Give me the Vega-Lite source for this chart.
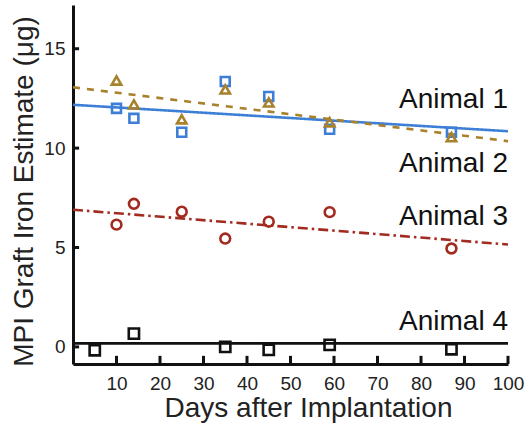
{
  "$schema": "https://vega.github.io/schema/vega-lite/v6.json",
  "width": 435,
  "height": 359,
  "autosize": "none",
  "padding": {"left": 73, "top": 5, "right": 16, "bottom": 67},
  "config": {"view": {"stroke": null}, "font": "Liberation Sans"},
  "datasets": {
    "points": [
      {"animal": "Animal 1", "day": 10, "value": 12.0},
      {"animal": "Animal 1", "day": 14, "value": 11.5},
      {"animal": "Animal 1", "day": 25, "value": 10.8},
      {"animal": "Animal 1", "day": 35, "value": 13.35},
      {"animal": "Animal 1", "day": 45, "value": 12.6},
      {"animal": "Animal 1", "day": 59, "value": 10.95},
      {"animal": "Animal 1", "day": 87, "value": 10.8},
      {"animal": "Animal 2", "day": 10, "value": 13.4},
      {"animal": "Animal 2", "day": 14, "value": 12.2},
      {"animal": "Animal 2", "day": 25, "value": 11.45},
      {"animal": "Animal 2", "day": 35, "value": 12.95},
      {"animal": "Animal 2", "day": 45, "value": 12.3},
      {"animal": "Animal 2", "day": 59, "value": 11.3},
      {"animal": "Animal 2", "day": 87, "value": 10.55},
      {"animal": "Animal 3", "day": 10, "value": 6.15},
      {"animal": "Animal 3", "day": 14, "value": 7.2},
      {"animal": "Animal 3", "day": 25, "value": 6.8},
      {"animal": "Animal 3", "day": 35, "value": 5.45},
      {"animal": "Animal 3", "day": 45, "value": 6.3},
      {"animal": "Animal 3", "day": 59, "value": 6.78},
      {"animal": "Animal 3", "day": 87, "value": 4.95},
      {"animal": "Animal 4", "day": 5, "value": -0.17},
      {"animal": "Animal 4", "day": 14, "value": 0.67},
      {"animal": "Animal 4", "day": 35, "value": 0.0},
      {"animal": "Animal 4", "day": 45, "value": -0.15},
      {"animal": "Animal 4", "day": 59, "value": 0.1},
      {"animal": "Animal 4", "day": 87, "value": -0.12}
    ],
    "fits": [
      {"animal": "Animal 1", "day": 0, "value": 12.18},
      {"animal": "Animal 1", "day": 100, "value": 10.85},
      {"animal": "Animal 2", "day": 0, "value": 13.06},
      {"animal": "Animal 2", "day": 100, "value": 10.35},
      {"animal": "Animal 3", "day": 0, "value": 6.9},
      {"animal": "Animal 3", "day": 100, "value": 5.15},
      {"animal": "Animal 4", "day": 0, "value": 0.18},
      {"animal": "Animal 4", "day": 100, "value": 0.18}
    ],
    "labels": [
      {"animal": "Animal 1", "day": 100, "value": 12.03},
      {"animal": "Animal 2", "day": 100, "value": 8.81},
      {"animal": "Animal 3", "day": 100, "value": 6.14},
      {"animal": "Animal 4", "day": 100, "value": 0.86}
    ],
    "xticks": [
      {"tday": 10, "ylo": -0.86, "yhi": -0.45}, {"tday": 20, "ylo": -0.86, "yhi": -0.45},
      {"tday": 30, "ylo": -0.86, "yhi": -0.45}, {"tday": 40, "ylo": -0.86, "yhi": -0.45},
      {"tday": 50, "ylo": -0.86, "yhi": -0.45}, {"tday": 60, "ylo": -0.86, "yhi": -0.45},
      {"tday": 70, "ylo": -0.86, "yhi": -0.45}, {"tday": 80, "ylo": -0.86, "yhi": -0.45},
      {"tday": 90, "ylo": -0.86, "yhi": -0.45}, {"tday": 100, "ylo": -0.86, "yhi": -0.45}
    ],
    "yticks": [
      {"tval": 0, "xlo": 0, "xhi": 1.4}, {"tval": 5, "xlo": 0, "xhi": 1.4},
      {"tval": 10, "xlo": 0, "xhi": 1.4}, {"tval": 15, "xlo": 0, "xhi": 1.4}
    ]
  },
  "encoding": {
    "x": {
      "type": "quantitative",
      "scale": {"domain": [0, 100], "nice": false, "zero": false},
      "axis": {
        "title": "Days after Implantation",
        "values": [10, 20, 30, 40, 50, 60, 70, 80, 90, 100],
        "grid": false, "ticks": false,
        "domainColor": "#111", "domainWidth": 3,
        "labelFontSize": 19, "labelColor": "#222", "labelPadding": 10,
        "labelFlush": false,
        "titleFontSize": 28, "titleFontWeight": "normal", "titleColor": "#222",
        "titleX": 235, "titleY": 52, "titleBaseline": "alphabetic", "titleAlign": "center"
      }
    },
    "y": {
      "type": "quantitative",
      "scale": {"domain": [-0.86, 17.2], "nice": false, "zero": false},
      "axis": {
        "title": "MPI Graft Iron Estimate (μg)",
        "values": [0, 5, 10, 15],
        "grid": false, "ticks": false,
        "domainColor": "#111", "domainWidth": 3,
        "labelFontSize": 19, "labelColor": "#222", "labelPadding": 8,
        "labelFlush": false,
        "titleFontSize": 28, "titleFontWeight": "normal", "titleColor": "#222",
        "titleX": -41, "titleY": 186, "titleAngle": -90, "titleBaseline": "alphabetic", "titleAlign": "center"
      }
    }
  },
  "layer": [
    {
      "data": {"name": "fits"},
      "mark": {"type": "line", "strokeWidth": 2.6, "clip": false},
      "encoding": {
        "x": {"field": "day", "type": "quantitative"},
        "y": {"field": "value", "type": "quantitative"},
        "color": {
          "field": "animal", "type": "nominal", "legend": null,
          "scale": {"domain": ["Animal 1", "Animal 2", "Animal 3", "Animal 4"], "range": ["#3d7fd6", "#a8812b", "#a32a1e", "#111111"]}
        },
        "strokeDash": {
          "field": "animal", "type": "nominal", "legend": null,
          "scale": {"domain": ["Animal 1", "Animal 2", "Animal 3", "Animal 4"], "range": [[1, 0], [7, 7], [10, 4, 2.5, 4], [1, 0]]}
        }
      }
    },
    {
      "data": {"name": "points"},
      "mark": {"type": "point", "filled": false, "strokeWidth": 2.6, "opacity": 1, "clip": false},
      "encoding": {
        "x": {"field": "day", "type": "quantitative"},
        "y": {"field": "value", "type": "quantitative"},
        "color": {"field": "animal", "type": "nominal", "legend": null},
        "shape": {
          "field": "animal", "type": "nominal", "legend": null,
          "scale": {"domain": ["Animal 1", "Animal 2", "Animal 3", "Animal 4"], "range": ["square", "triangle-up", "circle", "square"]}
        },
        "size": {
          "field": "animal", "type": "nominal", "legend": null,
          "scale": {"domain": ["Animal 1", "Animal 2", "Animal 3", "Animal 4"], "range": [80, 105, 68, 80]}
        }
      }
    },
    {
      "data": {"name": "labels"},
      "mark": {"type": "text", "align": "right", "baseline": "alphabetic", "fontSize": 28, "color": "#111"},
      "encoding": {
        "x": {"field": "day", "type": "quantitative"},
        "y": {"field": "value", "type": "quantitative"},
        "text": {"field": "animal", "type": "nominal"}
      }
    },
    {
      "data": {"name": "xticks"},
      "mark": {"type": "rule", "strokeWidth": 3, "color": "#111111", "strokeCap": "butt"},
      "encoding": {
        "x": {"field": "tday", "type": "quantitative"},
        "y": {"field": "ylo", "type": "quantitative"},
        "y2": {"field": "yhi"}
      }
    },
    {
      "data": {"name": "yticks"},
      "mark": {"type": "rule", "strokeWidth": 3, "color": "#111111", "strokeCap": "butt"},
      "encoding": {
        "y": {"field": "tval", "type": "quantitative"},
        "x": {"field": "xlo", "type": "quantitative"},
        "x2": {"field": "xhi"}
      }
    }
  ]
}
